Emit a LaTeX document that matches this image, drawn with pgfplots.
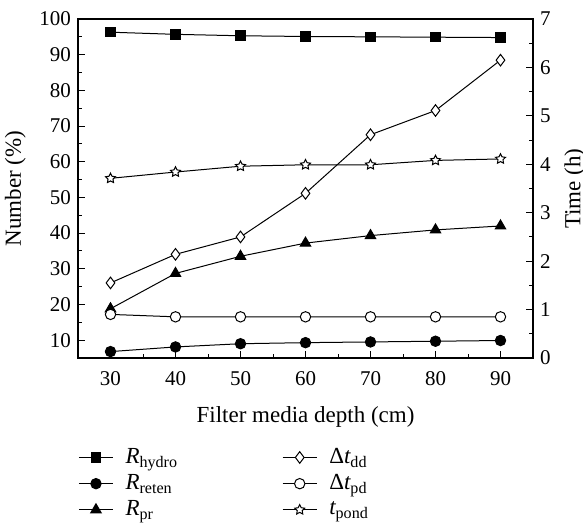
\documentclass[border=0pt]{standalone}
\usepackage{fontspec}
\setmainfont{Liberation Serif}
\usepackage{pgfplots}
\pgfplotsset{compat=1.18}

% open five-pointed star
\pgfdeclareplotmark{ostar}{%
  \pgfpathmoveto{\pgfpointpolar{90}{\pgfplotmarksize}}%
  \pgfpathlineto{\pgfpointpolar{126}{0.5\pgfplotmarksize}}%
  \pgfpathlineto{\pgfpointpolar{162}{\pgfplotmarksize}}%
  \pgfpathlineto{\pgfpointpolar{198}{0.5\pgfplotmarksize}}%
  \pgfpathlineto{\pgfpointpolar{234}{\pgfplotmarksize}}%
  \pgfpathlineto{\pgfpointpolar{270}{0.5\pgfplotmarksize}}%
  \pgfpathlineto{\pgfpointpolar{306}{\pgfplotmarksize}}%
  \pgfpathlineto{\pgfpointpolar{342}{0.5\pgfplotmarksize}}%
  \pgfpathlineto{\pgfpointpolar{18}{\pgfplotmarksize}}%
  \pgfpathlineto{\pgfpointpolar{54}{0.5\pgfplotmarksize}}%
  \pgfpathclose\pgfusepathqfillstroke}

\pgfplotsset{
  sq/.style={black,line width=0.5pt,mark=square*,mark size=2.4pt,mark options={solid,fill=black}},
  fc/.style={black,line width=0.5pt,mark=*,mark size=2.6pt,mark options={solid,fill=black}},
  tr/.style={black,line width=0.5pt,mark=triangle*,mark size=3.0pt,mark options={solid,fill=black}},
  di/.style={black,line width=0.5pt,mark=diamond*,mark size=2.9pt,mark options={solid,fill=white}},
  oc/.style={black,line width=0.5pt,mark=*,mark size=2.6pt,mark options={solid,fill=white}},
  st/.style={black,line width=0.5pt,mark=ostar,mark size=2.6pt,mark options={solid,fill=white}},
  every axis/.append style={
    scale only axis,width=227.5pt,height=169.5pt,
    at={(39pt,83pt)},anchor=south west,
    xmin=25,xmax=95,
    tick align=inside,major tick length=3.5pt,minor tick length=2.2pt,
    axis line style={line width=0.65pt},
    every tick/.style={black,line width=0.5pt},
    tick label style={font=\fontsize{10.5}{12}\selectfont},
    label style={font=\fontsize{11.5}{13}\selectfont},
    /pgf/number format/assume math mode=true,
  },
}

\begin{document}
\begin{tikzpicture}
\useasboundingbox (0,0) rectangle (291.5pt,262pt);

\begin{axis}[
  ymin=5,ymax=100,
  xtick={30,40,...,90},ytick={10,20,...,100},
  minor x tick num=1,minor y tick num=1,
  xtick pos=bottom,ytick pos=left,
  xticklabel style={yshift=-3pt},
  xlabel={Filter media depth (cm)},
  xlabel style={yshift=-4pt},
  ylabel={Number (\%)},
  legend columns=2,
  legend cell align=left,
  legend style={at={(0,0)},anchor=north west,yshift=-43pt,
    draw=none,fill=none,inner sep=0pt,
    font=\fontsize{11.5}{13}\selectfont,
    /tikz/every odd column/.append style={column sep=4pt},
    /tikz/every even column/.append style={column sep=50pt}},
  ]
  \addplot[sq,forget plot] coordinates {(30,96.3)(40,95.7)(50,95.3)(60,95.1)(70,95.0)(80,94.9)(90,94.8)};
  \addplot[fc,forget plot] coordinates {(30,6.8)(40,8.1)(50,9.0)(60,9.3)(70,9.5)(80,9.7)(90,9.9)};
  \addplot[tr,forget plot] coordinates {(30,18.8)(40,28.7)(50,33.5)(60,37.2)(70,39.3)(80,40.9)(90,42.0)};

  \addlegendimage{sq}\addlegendentry{{\itshape R}\textsubscript{hydro}}
  \addlegendimage{di}\addlegendentry{Δ{\itshape t}\textsubscript{dd}}
  \addlegendimage{fc}\addlegendentry{{\itshape R}\textsubscript{reten}}
  \addlegendimage{oc}\addlegendentry{Δ{\itshape t}\textsubscript{pd}}
  \addlegendimage{tr}\addlegendentry{{\itshape R}\textsubscript{pr}}
  \addlegendimage{st}\addlegendentry{{\itshape t}\textsubscript{pond}}
\end{axis}

\begin{axis}[
  ymin=0,ymax=7,
  ytick={0,1,...,7},minor y tick num=1,
  axis y line*=right,axis x line=none,
  ylabel={Time (h)},
  ]
  \addplot[di] coordinates {(30,1.55)(40,2.14)(50,2.50)(60,3.40)(70,4.61)(80,5.11)(90,6.15)};
  \addplot[oc] coordinates {(30,0.90)(40,0.85)(50,0.85)(60,0.85)(70,0.85)(80,0.85)(90,0.85)};
  \addplot[st] coordinates {(30,3.71)(40,3.84)(50,3.96)(60,3.99)(70,3.99)(80,4.08)(90,4.11)};
\end{axis}
\end{tikzpicture}
\end{document}
